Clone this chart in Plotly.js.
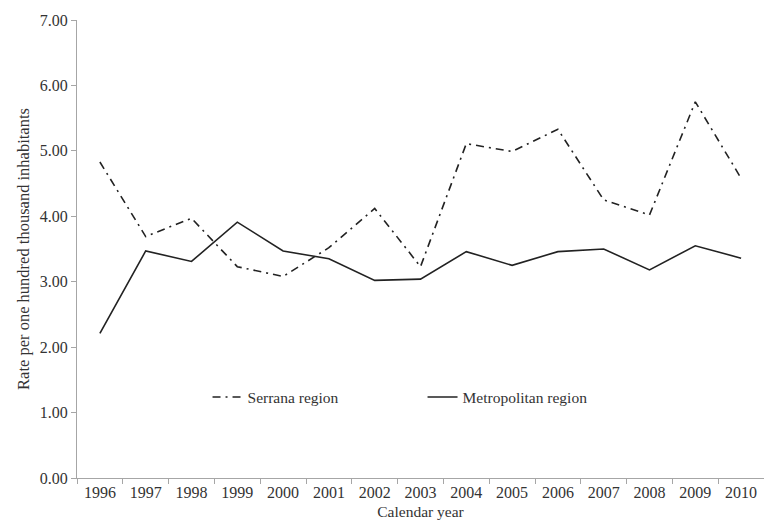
<!DOCTYPE html>
<html>
<head>
<meta charset="utf-8">
<script src="https://cdn.plot.ly/plotly-3.0.1.min.js"></script>
<style>
    body { margin: 0; background: #fff; }
    #chart { width: 764px; height: 521px; }
</style>
</head>
<body>
<div id="chart"></div>
<script>
// data
let years = ['1996', '1997', '1998', '1999', '2000', '2001', '2002', '2003',
    '2004', '2005', '2006', '2007', '2008', '2009', '2010'];
let serrana = [4.83, 3.69, 3.97, 3.23, 3.08, 3.52, 4.12, 3.23,
    5.11, 4.99, 5.33, 4.25, 4.02, 5.75, 4.58];
let metropolitan = [2.21, 3.47, 3.31, 3.91, 3.47, 3.35, 3.02, 3.04,
    3.46, 3.25, 3.46, 3.50, 3.18, 3.55, 3.36];

let textColor = '#333';
let axisColor = '#a6a6a6';
let fontFamily = '"Liberation Serif", "DejaVu Serif", serif';

let traces = [{
    type: 'scatter',
    mode: 'lines',
    name: 'Serrana region',
    x: years,
    y: serrana,
    line: {color: '#222', width: 1.6, dash: '8px,5px,2px,5px'}
}, {
    type: 'scatter',
    mode: 'lines',
    name: 'Metropolitan region',
    x: years,
    y: metropolitan,
    line: {color: '#222', width: 1.6}
}];

let layout = {
    width: 764,
    height: 521,
    margin: {l: 77, r: 0, t: 20, b: 43},
    paper_bgcolor: '#fff',
    plot_bgcolor: '#fff',
    font: {family: fontFamily, size: 16, color: textColor},
    showlegend: true,
    legend: {
        orientation: 'h',
        x: 0.19,
        y: 0.176,
        xanchor: 'left',
        yanchor: 'middle',
        font: {size: 15.5, color: textColor},
        entrywidth: 170,
        bgcolor: 'rgba(0,0,0,0)'
    },
    xaxis: {
        type: 'category',
        title: {text: 'Calendar year', font: {size: 15.5}, standoff: 5},
        showgrid: false,
        zeroline: false,
        showline: true,
        linecolor: axisColor,
        linewidth: 1,
        ticks: 'outside',
        tickson: 'boundaries',
        ticklen: 5,
        tickcolor: axisColor,
        tickfont: {size: 16},
        range: [-0.5, 14.5]
    },
    yaxis: {
        title: {text: 'Rate per one hundred thousand inhabitants', font: {size: 16.5}, standoff: 6},
        range: [0, 7],
        dtick: 1,
        tickformat: '.2f',
        showgrid: false,
        zeroline: false,
        showline: true,
        linecolor: axisColor,
        linewidth: 1,
        ticks: 'outside',
        ticklen: 5,
        tickcolor: axisColor,
        tickfont: {size: 16}
    }
};

Plotly.newPlot('chart', traces, layout, {displayModeBar: false, staticPlot: true});
</script>
</body>
</html>
